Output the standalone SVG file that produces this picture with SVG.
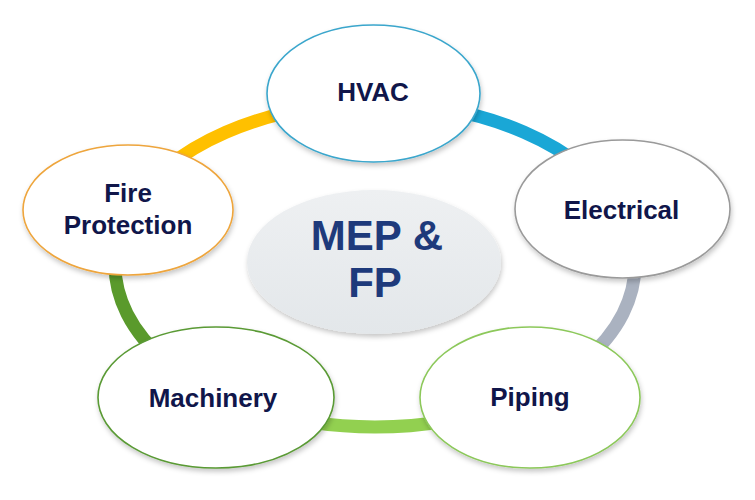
<svg xmlns="http://www.w3.org/2000/svg" width="755" height="500" viewBox="0 0 755 500">
  <defs>
    <filter id="sh" x="-10%" y="-10%" width="120%" height="130%">
      <feDropShadow dx="1" dy="3" stdDeviation="2.5" flood-color="#000" flood-opacity="0.22"/>
    </filter>
    <linearGradient id="cg" x1="0" y1="0" x2="0" y2="1">
      <stop offset="0" stop-color="#eef0f2"/>
      <stop offset="1" stop-color="#e3e7ea"/>
    </linearGradient>
  </defs>
  <style>
    .ring { fill: none; stroke-width: 13; }
    .node { fill: #ffffff; stroke-width: 1.6; filter: url(#sh); }
    .lbl { font-family: "Liberation Sans", Arial, sans-serif; font-weight: bold; font-size: 26px; fill: #10164a; text-anchor: middle; }
    .hub { font-family: "Liberation Sans", Arial, sans-serif; font-weight: bold; font-size: 42px; fill: #1e3a7b; text-anchor: middle; }
  </style>
  <rect width="755" height="500" fill="#ffffff"/>

  <g id="connectors">
    <path class="ring" stroke="#ffc000" d="M130.7,209.6 A260,162 0 0 1 375,103"/>
    <path class="ring" stroke="#1aa7d6" d="M375,103 A260,162 0 0 1 619.3,209.6"/>
    <path class="ring" stroke="#aab2c0" d="M619.3,209.6 A260,162 0 0 1 524.1,397.7"/>
    <path class="ring" stroke="#92d050" d="M524.1,397.7 A260,162 0 0 1 225.9,397.7"/>
    <path class="ring" stroke="#5a9a2c" d="M225.9,397.7 A260,162 0 0 1 130.7,209.6"/>
  </g>

  <g id="center">
    <ellipse cx="374" cy="262" rx="127" ry="72" fill="url(#cg)" filter="url(#sh)"/>
    <text class="hub" x="377" y="250">MEP &amp;</text>
    <text class="hub" x="375" y="297">FP</text>
  </g>

  <g id="hvac">
    <ellipse class="node" cx="373.5" cy="93.5" rx="106.5" ry="68.5" stroke="#3aa6cc"/>
    <text class="lbl" x="373" y="101">HVAC</text>
  </g>

  <g id="electrical">
    <ellipse class="node" cx="622.5" cy="209" rx="107.5" ry="69" stroke="#9a9a9a"/>
    <text class="lbl" x="621.5" y="219">Electrical</text>
  </g>

  <g id="piping">
    <ellipse class="node" cx="530" cy="397.5" rx="110" ry="70.5" stroke="#8cc85a"/>
    <text class="lbl" x="530" y="406">Piping</text>
  </g>

  <g id="machinery">
    <ellipse class="node" cx="216" cy="397.5" rx="118" ry="70.5" stroke="#5a9a35"/>
    <text class="lbl" x="213" y="407">Machinery</text>
  </g>

  <g id="fire-protection">
    <ellipse class="node" cx="128" cy="210" rx="105" ry="65" stroke="#eea53c"/>
    <text class="lbl" x="128" y="202">Fire</text>
    <text class="lbl" x="128" y="234">Protection</text>
  </g>
</svg>
